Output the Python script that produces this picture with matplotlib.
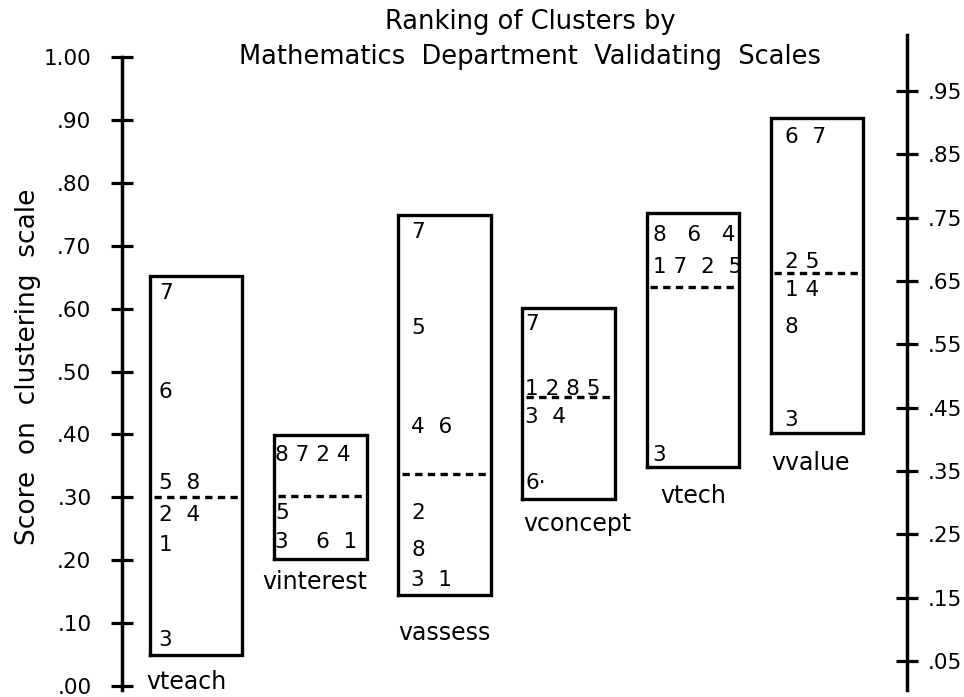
import matplotlib
matplotlib.use("Agg")
import matplotlib.pyplot as plt

# cluster boxes on each validating scale
clusters = ["vteach", "vinterest", "vassess", "vconcept", "vtech", "vvalue"]
box_low = [0.049, 0.202, 0.145, 0.297, 0.348, 0.402]
box_high = [0.652, 0.399, 0.749, 0.601, 0.752, 0.903]
box_cut = [0.300, 0.302, 0.337, 0.459, 0.634, 0.657]

# cluster numbers written inside each box, with their score
row_labels = [
    ["7", "6", "5  8", "2  4", "1", "3"],
    ["8 7 2 4", "5", "3    6  1"],
    ["7", "5", "4  6", "2", "8", "3  1"],
    ["7", "1 2 8 5", "3  4", "6\u00b7"],
    ["8   6   4", "1 7  2  5", "3"],
    ["6  7", "2 5", "1 4", "8", "3"],
]
row_scores = [
    [0.625, 0.467, 0.323, 0.272, 0.224, 0.073],
    [0.367, 0.275, 0.229],
    [0.722, 0.569, 0.412, 0.275, 0.216, 0.168],
    [0.575, 0.472, 0.428, 0.323],
    [0.717, 0.666, 0.367],
    [0.873, 0.674, 0.630, 0.571, 0.423],
]

left_ticks = [0.0, 0.1, 0.2, 0.3, 0.4, 0.5, 0.6, 0.7, 0.8, 0.9, 1.0]
left_ticklabels = [".00", ".10", ".20", ".30", ".40", ".50", ".60", ".70", ".80", ".90", "1.00"]
right_ticks = [0.05, 0.15, 0.25, 0.35, 0.45, 0.55, 0.65, 0.75, 0.85, 0.95]
right_ticklabels = [".05", ".15", ".25", ".35", ".45", ".55", ".65", ".75", ".85", ".95"]

plt.rcParams['font.family'] = ['DejaVu Sans']

fig = plt.figure(figsize=(9.64, 6.97), dpi=100)
ax = fig.add_axes([0.1266, 0.0158, 0.8143, 0.9024])
ax.set_xlim(-0.596, 5.725)
ax.set_ylim(0, 1)
ax.patch.set_visible(False)

# layout tweaks (pixels)
text_pad = [9, 1, 13, 3, 6, 14]
name_drop = [15, 11, 26, 13, 17, 18]
name_shift = [-10, -5, 0, 9, 0, -6]
box_w = 0.745
px = 124.2  # pixels per x unit

for i, name in enumerate(clusters):
    x0 = i - box_w / 2
    x1 = i + box_w / 2
    ax.plot([x0, x1, x1, x0, x0],
            [box_low[i], box_low[i], box_high[i], box_high[i], box_low[i]],
            color='black', linewidth=2.4, solid_joinstyle='miter')
    ax.plot([x0 + 0.03, x1], [box_cut[i], box_cut[i]], color='black',
            linewidth=2.4, linestyle=(0, (2.2, 1.6)))
    for lab, sc in zip(row_labels[i], row_scores[i]):
        ax.text(x0 + text_pad[i] / px, sc, lab, fontsize=15.5, ha='left',
                va='center', color='black')
    ax.annotate(name, (i, box_low[i]), xytext=(name_shift[i] * 0.72, -name_drop[i] * 0.72),
                textcoords='offset points', ha='center', va='top', fontsize=17)

# left axis
for s in ['top', 'right', 'bottom']:
    ax.spines[s].set_visible(False)
ax.spines['left'].set_linewidth(2.5)
ax.spines['left'].set_bounds(-0.006, 1.0)
ax.set_xticks([])
ax.set_yticks(left_ticks)
ax.set_yticklabels(left_ticklabels)
ax.tick_params(axis='y', direction='inout', length=16, width=2.3, pad=14, labelsize=15.5)

# right axis, slightly different scale
ax2 = ax.twinx()
ax2.set_ylim(0.0105, 1.0037)
for s in ['top', 'left', 'bottom']:
    ax2.spines[s].set_visible(False)
ax2.spines['right'].set_linewidth(2.5)
ax2.spines['right'].set_bounds(0.004, 1.038)
ax2.set_yticks(right_ticks)
ax2.set_yticklabels(right_ticklabels)
ax2.tick_params(axis='y', direction='inout', length=16, width=2.3, pad=7, labelsize=15.5)

fig.text(0.55, 0.968, "Ranking of Clusters by", ha='center', va='center', fontsize=18.5)
fig.text(0.55, 0.918, "Mathematics  Department  Validating  Scales", ha='center',
         va='center', fontsize=18.5)
fig.text(0.029, 0.474, "Score  on  clustering  scale", rotation=90, ha='center',
         va='center', fontsize=19)

fig.savefig("out.png", dpi=100)
